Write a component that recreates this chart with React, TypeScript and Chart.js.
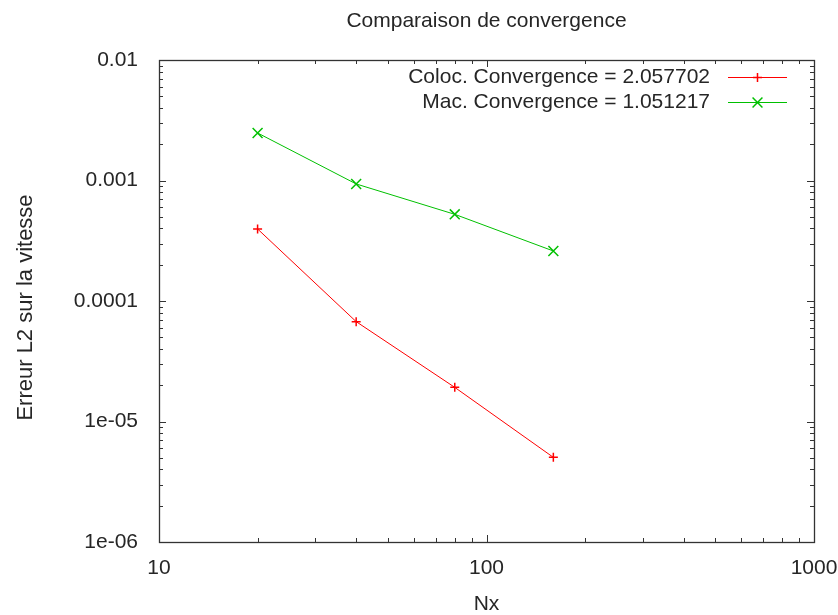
import React, { useEffect, useRef } from 'react';
import { Chart, registerables } from 'chart.js';

Chart.register(...registerables);

const nxValues = [20, 40, 80, 160];
const colocErrors = [3.96e-4, 6.74e-5, 1.92e-5, 5.04e-6];
const macErrors = [2.48e-3, 9.36e-4, 5.24e-4, 2.6e-4];
const seriesLabels = ['Coloc. Convergence = 2.057702', 'Mac. Convergence = 1.051217'];
const seriesColors = ['#ff0000', '#00c000'];
const seriesMarkers = ['cross', 'crossRot'];
const xTickValues = [10, 100, 1000];
const xTickLabels = ['10', '100', '1000'];
const yTickValues = [1e-6, 1e-5, 1e-4, 1e-3, 1e-2];
const yTickLabels = ['1e-06', '1e-05', '0.0001', '0.001', '0.01'];
const titleText = 'Comparaison de convergence';
const xTitleText = 'Nx';
const yTitleText = 'Erreur L2 sur la vitesse';

const FONT = "'Liberation Sans', Arial, sans-serif";
const TEXT_COLOR = '#262626';
const FONT_SIZE = 21;

const W = 838;
const H = 615;

function labelFor(values: number[], labels: string[], value: number): string {
  const i = values.findIndex((v) => Math.abs(Math.log10(v) - Math.log10(value)) < 1e-9);
  return i >= 0 ? labels[i] : '';
}

function minorValues(min: number, max: number): number[] {
  const out: number[] = [];
  const e0 = Math.floor(Math.log10(min));
  const e1 = Math.ceil(Math.log10(max));
  for (let e = e0; e < e1; e++) {
    for (let k = 2; k <= 9; k++) {
      const v = k * Math.pow(10, e);
      if (v > min && v < max) out.push(v);
    }
  }
  return out;
}

const framePlugin = {
  id: 'gnuFrame',
  afterDraw(chart: any) {
    const { ctx, chartArea } = chart;
    const xs = chart.scales.x;
    const ys = chart.scales.y;
    const L = Math.round(chartArea.left);
    const R = Math.round(chartArea.right);
    const T = Math.round(chartArea.top);
    const B = Math.round(chartArea.bottom);
    ctx.save();
    ctx.strokeStyle = '#333333';
    ctx.lineWidth = 1.3;
    ctx.strokeRect(L + 0.5, T + 0.5, R - L, B - T);

    const MAJ = 7;
    const MIN = 4;
    ctx.lineWidth = 1;
    ctx.beginPath();
    const xMinor = minorValues(xs.min, xs.max);
    const drawX = (v: number, len: number) => {
      const p = Math.round(xs.getPixelForValue(v)) + 0.5;
      ctx.moveTo(p, B);
      ctx.lineTo(p, B - len);
      ctx.moveTo(p, T);
      ctx.lineTo(p, T + len);
    };
    xTickValues.forEach((v) => drawX(v, MAJ));
    xMinor.forEach((v) => drawX(v, MIN));
    const yMinor = minorValues(ys.min, ys.max);
    const drawY = (v: number, len: number) => {
      const p = Math.round(ys.getPixelForValue(v)) + 0.5;
      ctx.moveTo(L, p);
      ctx.lineTo(L + len, p);
      ctx.moveTo(R, p);
      ctx.lineTo(R - len, p);
    };
    yTickValues.forEach((v) => drawY(v, MAJ));
    yMinor.forEach((v) => drawY(v, MIN));
    ctx.stroke();

    // y-axis title (gnuplot places it slightly below the plot centre)
    ctx.save();
    ctx.translate(31.7, (chartArea.top + chartArea.bottom) / 2 + 6.5);
    ctx.rotate(-Math.PI / 2);
    ctx.fillStyle = TEXT_COLOR;
    ctx.font = `22px ${FONT}`;
    ctx.textAlign = 'center';
    ctx.textBaseline = 'alphabetic';
    ctx.fillText(yTitleText, 0, 0);
    ctx.restore();

    // legend (gnuplot style: text, then line sample with marker)
    chart.data.datasets.forEach((ds: any, i: number) => {
      const y = Math.round(chartArea.top + 17 + 25 * i) + 0.5;
      const x1 = chartArea.right - 86;
      const x2 = chartArea.right - 27;
      const mx = (x1 + x2) / 2;
      ctx.fillStyle = TEXT_COLOR;
      ctx.font = `${FONT_SIZE}px ${FONT}`;
      ctx.textAlign = 'right';
      ctx.textBaseline = 'middle';
      ctx.fillText(ds.label, x1 - 18, y);
      ctx.strokeStyle = ds.borderColor;
      ctx.lineWidth = 1;
      ctx.beginPath();
      ctx.moveTo(x1, y);
      ctx.lineTo(x2, y);
      ctx.stroke();
      ctx.lineWidth = 1.5;
      ctx.beginPath();
      if (ds.pointStyle === 'cross') {
        const r = ds.pointRadius;
        ctx.moveTo(mx - r, y);
        ctx.lineTo(mx + r, y);
        ctx.moveTo(mx, y - r);
        ctx.lineTo(mx, y + r);
      } else {
        const r = ds.pointRadius * Math.SQRT1_2;
        ctx.moveTo(mx - r, y - r);
        ctx.lineTo(mx + r, y + r);
        ctx.moveTo(mx - r, y + r);
        ctx.lineTo(mx + r, y - r);
      }
      ctx.stroke();
    });
    ctx.restore();
  },
};

export default function App() {
  const canvasRef = useRef<HTMLCanvasElement | null>(null);

  useEffect(() => {
    const canvas = canvasRef.current;
    if (!canvas) return;
    const seriesData = [colocErrors, macErrors];
    const chart = new Chart(canvas, {
      type: 'line',
      data: {
        datasets: seriesData.map((vals, s) => ({
          label: seriesLabels[s],
          data: nxValues.map((x, i) => ({ x, y: vals[i] })),
          borderColor: seriesColors[s],
          backgroundColor: seriesColors[s],
          borderWidth: 1,
          pointStyle: seriesMarkers[s] as any,
          pointRadius: s === 0 ? 4.5 : 7,
          pointBorderWidth: 1.5,
          pointBorderColor: seriesColors[s],
          fill: false,
          tension: 0,
        })),
      },
      options: {
        responsive: false,
        animation: false,
        layout: { padding: { left: 0, right: 24, top: 0, bottom: 0 } },
        plugins: {
          legend: { display: false },
          tooltip: { enabled: false },
          title: {
            display: true,
            text: titleText,
            fullSize: false,
            color: TEXT_COLOR,
            font: { family: FONT, size: FONT_SIZE, weight: 'normal', lineHeight: 1.2 },
            padding: { top: 8.2, bottom: 26.6 },
          },
        },
        scales: {
          x: {
            type: 'logarithmic',
            min: 10,
            max: 1000,
            grid: { display: false, drawTicks: false },
            border: { display: false },
            afterBuildTicks: (axis: any) => {
              axis.ticks = xTickValues.map((v) => ({ value: v }));
            },
            afterFit: (axis: any) => {
              axis.height = 73;
              axis.paddingLeft = 0;
              axis.paddingRight = 0;
            },
            ticks: {
              autoSkip: false,
              maxRotation: 0,
              padding: 14,
              color: TEXT_COLOR,
              font: { family: FONT, size: FONT_SIZE, lineHeight: 1.2 },
              callback: (value: any) => labelFor(xTickValues, xTickLabels, Number(value)),
            },
            title: {
              display: true,
              text: xTitleText,
              color: TEXT_COLOR,
              font: { family: FONT, size: FONT_SIZE, lineHeight: 1 },
              padding: { top: 0, bottom: 0 },
            },
          },
          y: {
            type: 'logarithmic',
            min: 1e-6,
            max: 1e-2,
            grid: { display: false, drawTicks: false },
            border: { display: false },
            afterBuildTicks: (axis: any) => {
              axis.ticks = yTickValues.map((v) => ({ value: v }));
            },
            afterFit: (axis: any) => {
              axis.width = 159;
              axis.paddingTop = 0;
              axis.paddingBottom = 0;
            },
            ticks: {
              autoSkip: false,
              padding: 21,
              color: TEXT_COLOR,
              font: { family: FONT, size: FONT_SIZE, lineHeight: 1.2 },
              callback: (value: any) => labelFor(yTickValues, yTickLabels, Number(value)),
            },
            title: { display: false, text: yTitleText },
          },
        },
      },
      plugins: [framePlugin],
    } as any);
    return () => chart.destroy();
  }, []);

  return (
    <div style={{ position: 'absolute', left: 0, top: 0, width: W, height: H, background: '#ffffff' }}>
      <canvas ref={canvasRef} width={W} height={H} style={{ display: 'block', width: W, height: H }} />
    </div>
  );
}
